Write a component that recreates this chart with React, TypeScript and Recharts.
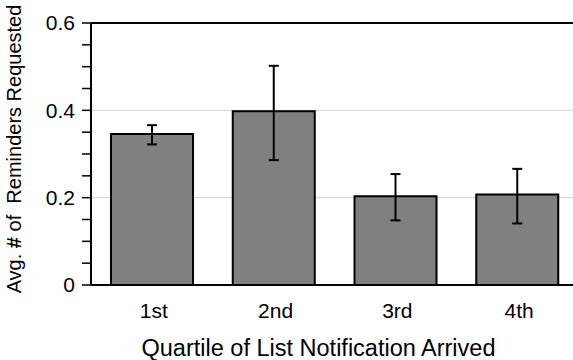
import React from "react";
import {
  BarChart,
  Bar,
  XAxis,
  YAxis,
  CartesianGrid,
  ErrorBar,
  ReferenceLine,
} from "recharts";

// Values
const quartiles = ["1st", "2nd", "3rd", "4th"];
const avgReminders = [0.346, 0.398, 0.203, 0.207];
const errUpper = [0.366, 0.502, 0.254, 0.266];
const errLower = [0.322, 0.286, 0.148, 0.141];

const yTicks = [0, 0.05, 0.1, 0.15, 0.2, 0.25, 0.3, 0.35, 0.4, 0.45, 0.5, 0.55, 0.6];
const yLabelTicks = [0, 0.2, 0.4, 0.6];
const gridValues = [0.2, 0.4];

const FONT = "'Liberation Sans', Arial, sans-serif";

const data = quartiles.map((q, i) => ({
  quartile: q,
  avg: avgReminders[i],
  err: [avgReminders[i] - errLower[i], errUpper[i] - avgReminders[i]],
}));

const fmtY = (v: number) => {
  if (!yLabelTicks.includes(v)) return "";
  return v === 0 ? "0" : v.toFixed(1);
};

// Rotated y title; the "#" is bold in the original
function YTitle({ viewBox }: any) {
  const cx = 14;
  const cy = viewBox.y + viewBox.height / 2 - 5;
  return (
    <text
      x={cx}
      y={cy}
      transform={`rotate(-90, ${cx}, ${cy})`}
      textAnchor="middle"
      dominantBaseline="central"
      fontSize={20}
      fontFamily={FONT}
      fill="#000"
    >
      Avg. <tspan fontWeight="bold">#</tspan> of{"\u00a0 "}Reminders Requested
    </text>
  );
}

function XTitle({ viewBox }: any) {
  const cx = viewBox.x + viewBox.width / 2 - 16;
  return (
    <text
      x={cx}
      y={viewBox.y + viewBox.height - 4}
      textAnchor="middle"
      fontSize={23.5}
      fontFamily={FONT}
      fill="#000"
    >
      Quartile of List Notification Arrived
    </text>
  );
}

export default function App() {
  return (
    <div style={{ position: "absolute", left: 0, top: 0, width: 573, height: 360, overflow: "hidden", background: "#fff" }}>
      <BarChart
        width={578}
        height={360}
        data={data}
        margin={{ top: 23, right: 0, bottom: 0, left: 0 }}
      >
        <CartesianGrid horizontal vertical={false} horizontalValues={gridValues} stroke="#d0d0d0" strokeWidth={1} />
        <XAxis
          dataKey="quartile"
          height={75}
          axisLine={{ stroke: "#000", strokeWidth: 2 }}
          tickLine={false}
          tickSize={0}
          tickMargin={18}
          tick={{ fill: "#000", fontSize: 21, fontFamily: FONT, dx: 2 }}
          label={<XTitle />}
        />
        <YAxis
          width={91}
          domain={[0, 0.6]}
          ticks={yTicks}
          interval={0}
          tickFormatter={fmtY}
          axisLine={{ stroke: "#000", strokeWidth: 2 }}
          tickLine={{ stroke: "#000", strokeWidth: 1.5 }}
          tickSize={9}
          tickMargin={7}
          tick={{ fill: "#000", fontSize: 21, fontFamily: FONT }}
          label={<YTitle />}
        />
        <ReferenceLine y={0.6} stroke="#000" strokeWidth={2} />
        <Bar
          dataKey="avg"
          barSize={82}
          fill="#808080"
          stroke="#000"
          strokeWidth={2}
          isAnimationActive={false}
        >
          <ErrorBar dataKey="err" width={5} stroke="#000" strokeWidth={2} direction="y" isAnimationActive={false} />
        </Bar>
      </BarChart>
    </div>
  );
}
